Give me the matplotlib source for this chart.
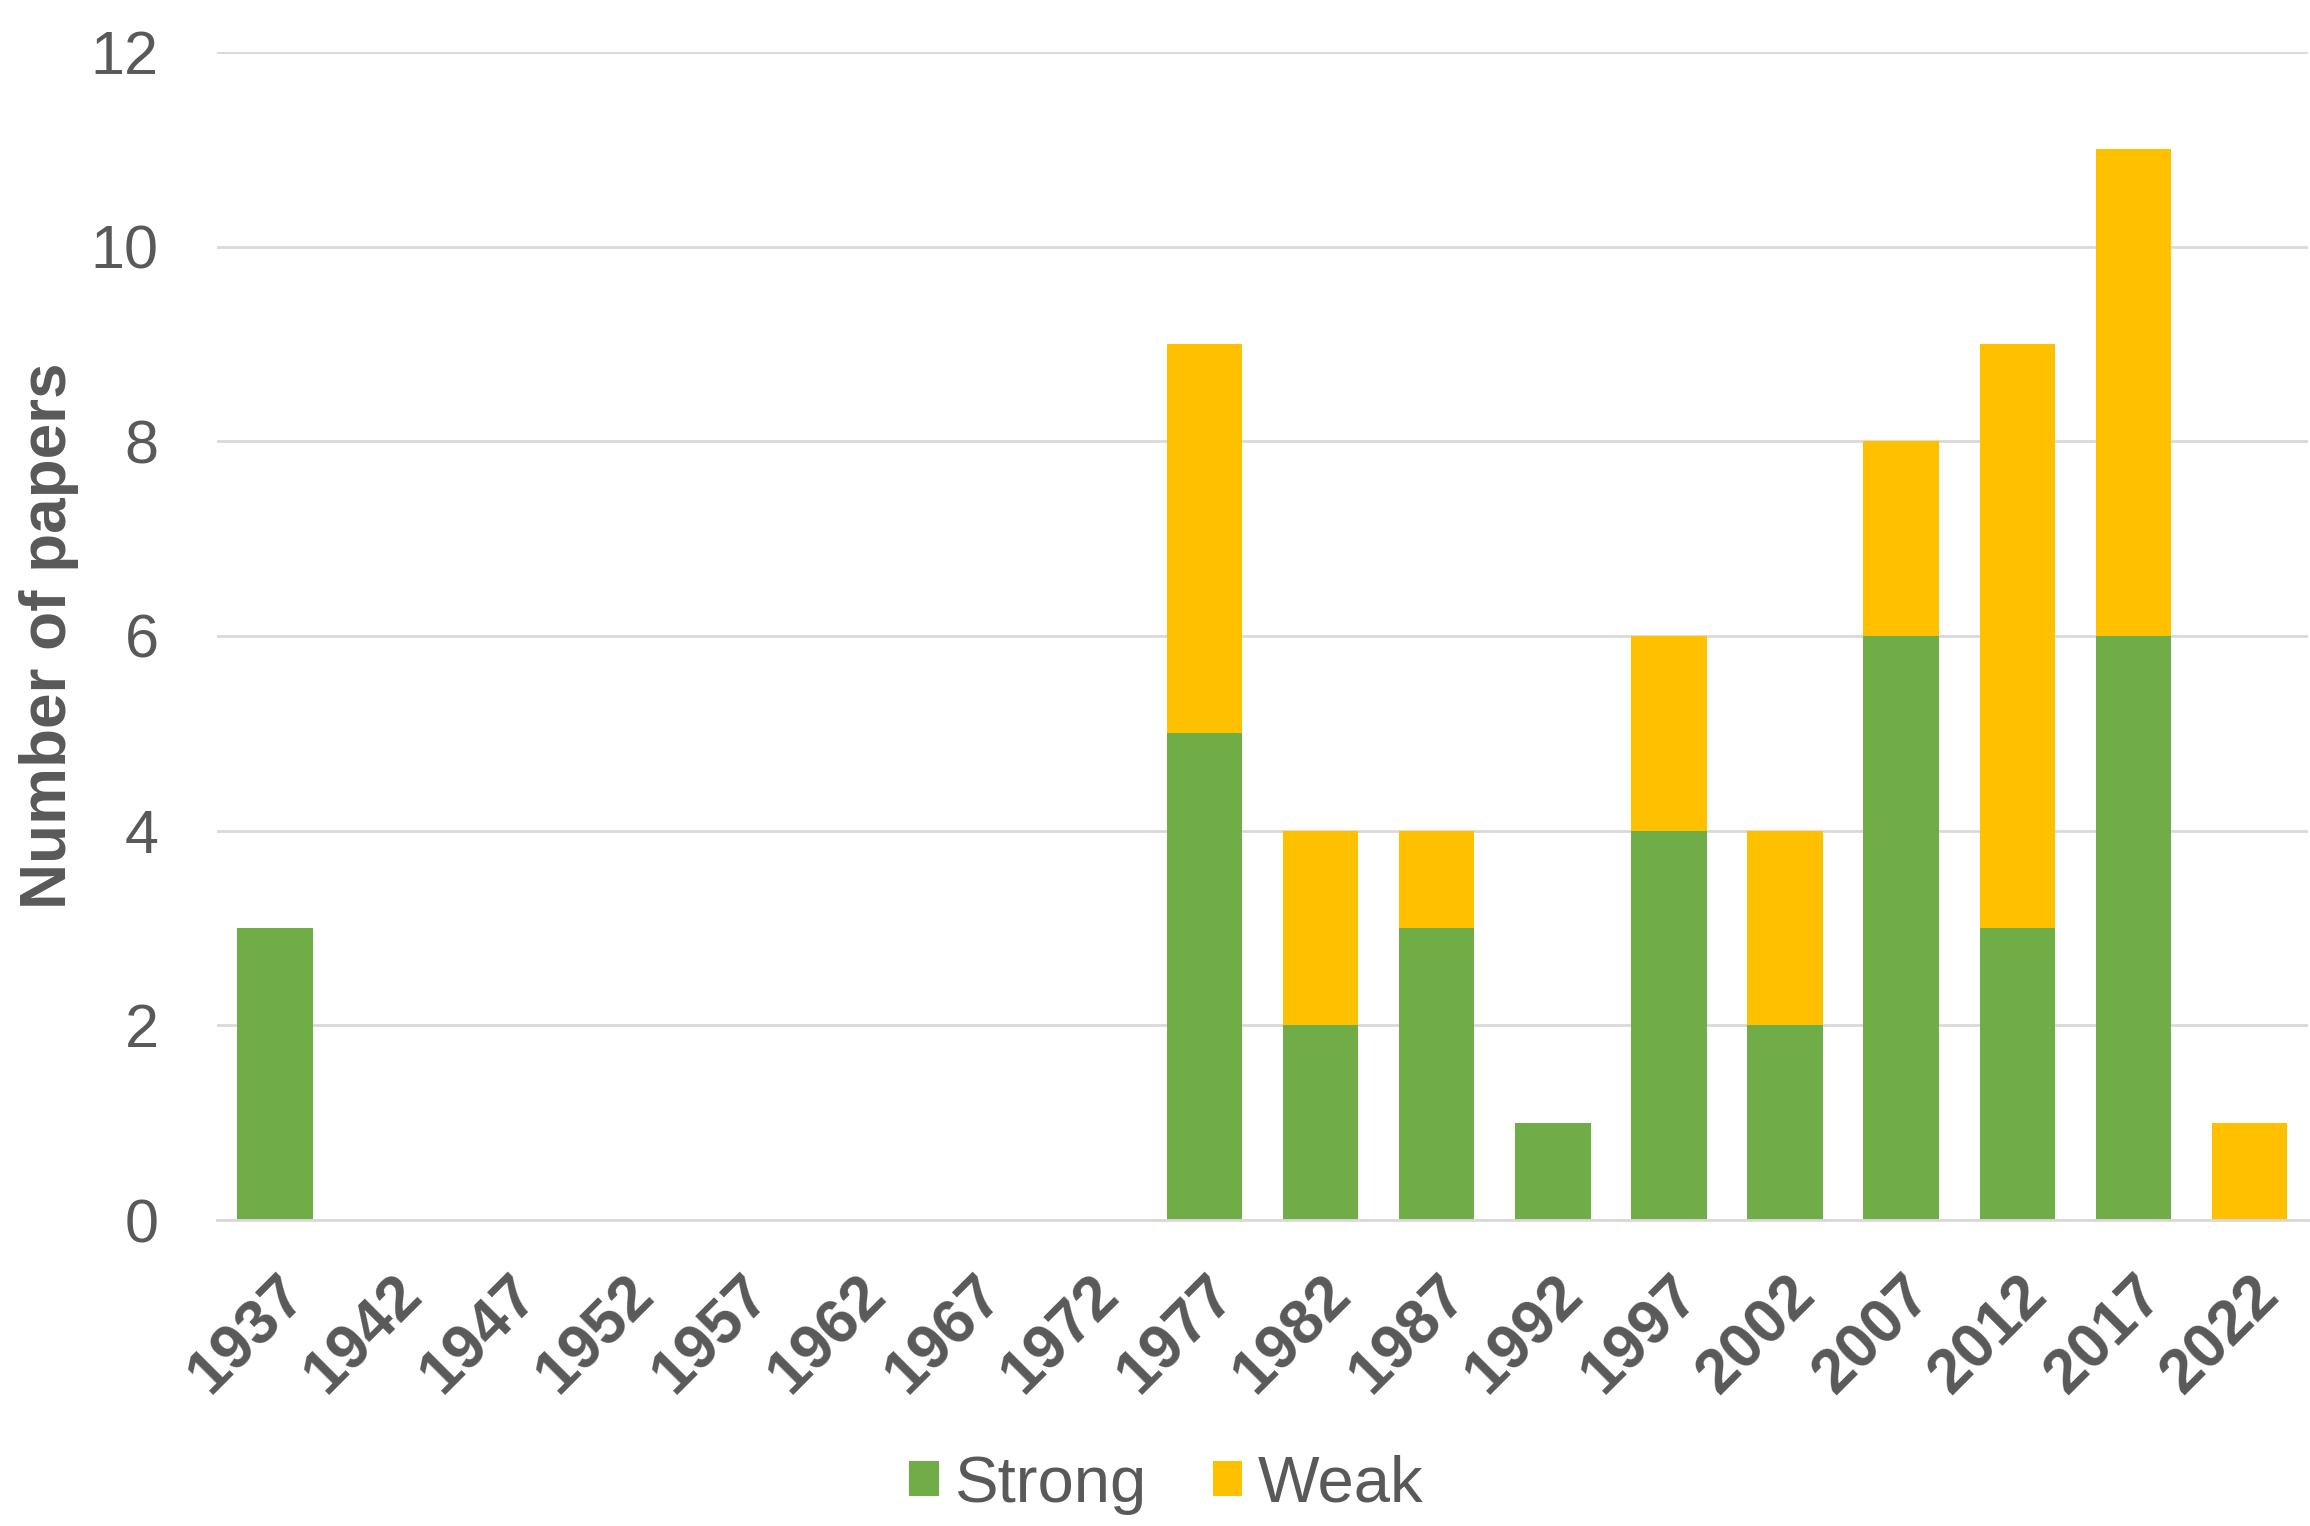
import numpy as np
import matplotlib
matplotlib.use("Agg")
import matplotlib.pyplot as plt

# data
years = ["1937", "1942", "1947", "1952", "1957", "1962", "1967", "1972", "1977",
         "1982", "1987", "1992", "1997", "2002", "2007", "2012", "2017", "2022"]
strong = [3, 0, 0, 0, 0, 0, 0, 0, 5, 2, 3, 1, 4, 2, 6, 3, 6, 0]
weak = [0, 0, 0, 0, 0, 0, 0, 0, 4, 2, 1, 0, 2, 2, 2, 6, 5, 1]
y_ticks = [0, 2, 4, 6, 8, 10, 12]

GREEN = "#70AD47"
YELLOW = "#FFC000"
TEXT = "#595959"

plt.rcParams["font.family"] = ["Liberation Sans", "DejaVu Sans"]

fig = plt.figure(figsize=(23.1, 15.26), dpi=100)
ax = fig.add_axes([0.094, 0.2005, 0.905, 0.7655])

x = np.arange(len(years))
ax.bar(x, strong, width=0.65, color=GREEN, label="Strong", zorder=3)
ax.bar(x, weak, width=0.65, bottom=strong, color=YELLOW, label="Weak", zorder=3)

ax.set_xlim(-0.5, len(years) - 0.5)
ax.set_ylim(0, 12)
ax.set_yticks(y_ticks)
ax.set_yticklabels([str(t) for t in y_ticks], fontsize=44, color=TEXT)
ax.set_xticks(x)
ax.set_xticklabels(years, rotation=45, ha="right", rotation_mode="anchor",
                   fontsize=45, fontweight="bold", color=TEXT)
ax.tick_params(axis="y", length=0, pad=42)
ax.tick_params(axis="x", length=0, pad=32)

ax.grid(axis="y", color="#D9D9D9", linewidth=2, zorder=0)
for s in ["top", "right", "left"]:
    ax.spines[s].set_visible(False)
ax.spines["bottom"].set_color("#D9D9D9")
ax.spines["bottom"].set_linewidth(2)
ax.spines["bottom"].set_zorder(4)

ax.set_ylabel("Number of papers", fontsize=46, fontweight="bold", color=TEXT)
ax.yaxis.set_label_coords(-0.066, 0.5)

leg = fig.legend(loc="center", bbox_to_anchor=(0.505, 0.027), ncol=2, frameon=False,
                 fontsize=47, handlelength=0.45, handleheight=0.45, handletextpad=0.25,
                 columnspacing=1.0)
for t in leg.get_texts():
    t.set_color(TEXT)

fig.savefig("out.png", dpi=100)
